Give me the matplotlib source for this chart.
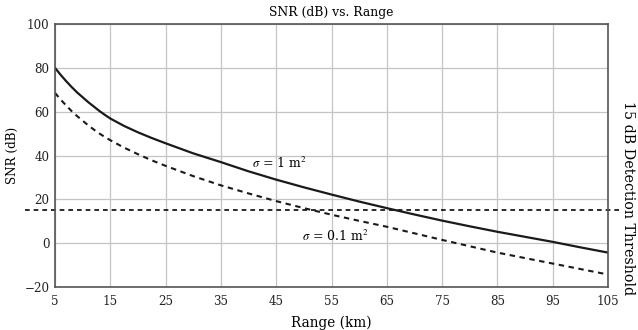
import matplotlib
matplotlib.use("Agg")
import matplotlib.pyplot as plt

# values
range_km = [5, 6, 7, 8, 9, 10, 11, 12, 13, 14, 15, 17.5, 20, 22.5, 25, 30, 35, 40, 45,
            50, 55, 60, 65, 70, 75, 80, 85, 90, 95, 100, 105]
snr_1m2 = [80, 76.9, 74.0, 71.3, 68.8, 66.6, 64.4, 62.4, 60.4, 58.6, 56.9, 53.5, 50.6,
           48.0, 45.6, 41.0, 37.0, 32.8, 29.0, 25.5, 22.2, 19.0, 16.0, 13.1, 10.3,
           7.7, 5.2, 2.9, 0.6, -1.9, -4.3]
snr_01m2 = [68.6, 65.6, 62.9, 60.3, 58.0, 55.9, 53.8, 51.9, 50.1, 48.5, 47.0, 43.6, 40.6,
            37.8, 35.3, 30.6, 26.4, 22.7, 19.2, 16.0, 13.0, 10.2, 7.5, 4.5, 1.5,
            -1.4, -4.3, -6.8, -9.3, -11.8, -14.3]
threshold_db = 15

xticks = [5, 15, 25, 35, 45, 55, 65, 75, 85, 95, 105]
yticks = [-20, 0, 20, 40, 60, 80, 100]

plt.rcParams['font.family'] = ['DejaVu Serif']
plt.rcParams['mathtext.fontset'] = 'stix'

fs = 8.6
fig = plt.figure(figsize=(6.38, 3.3), dpi=100)
ax = fig.add_axes([0.0862, 0.1303, 0.8668, 0.7967])

ax.plot(range_km, snr_1m2, color='#1a1a1a', lw=1.6)
ax.plot(range_km, snr_01m2, color='#1a1a1a', lw=1.5, dashes=(2.6, 2.2))
# threshold line runs past both sides of the plot box
ax.plot([-0.054, 1.024], [threshold_db, threshold_db], color='#1a1a1a', lw=1.3,
        dashes=(2.6, 2.2), transform=ax.get_yaxis_transform(), clip_on=False)

ax.set_xlim(5, 105)
ax.set_ylim(-20, 100)
ax.set_xticks(xticks)
ax.set_yticks(yticks)
ax.set_yticklabels([str(v).replace('-', '\u2212') for v in yticks])
ax.tick_params(length=0, labelsize=fs, colors='#222222')
ax.tick_params(axis='x', pad=6)
ax.tick_params(axis='y', pad=4)
ax.grid(True, color='#c4c4c4', lw=0.9)
ax.set_axisbelow(True)
for s in ax.spines.values():
    s.set_color('#555555')
    s.set_linewidth(1.2)

ax.set_title('SNR (dB) vs. Range', fontsize=8.9, pad=6)
ax.set_xlabel('Range (km)', fontsize=9.8, labelpad=5)
ax.set_ylabel('SNR (dB)', fontsize=fs, labelpad=4)

ax.text(40.6, 36.5, r'$\sigma$ = 1 m$^2$', fontsize=9.0, va='center', ha='left')
ax.text(49.6, 3.3, r'$\sigma$ = 0.1 m$^2$', fontsize=9.0, va='center', ha='left')

fig.text(0.984, 0.40, '15 dB Detection Threshold', rotation=-90, fontsize=10.3,
         va='center', ha='center')

fig.savefig('out.png', dpi=100)
